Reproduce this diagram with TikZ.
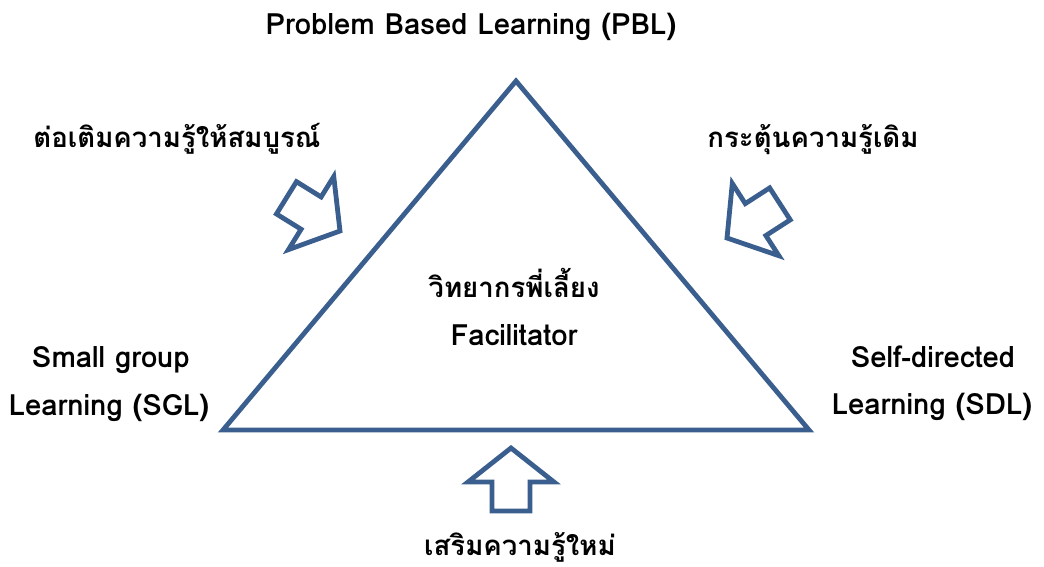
\documentclass[tikz,border=0pt]{standalone}
\usepackage{fontspec}
\setmainfont{Loma}[Script=Thai]
\definecolor{edgeblue}{HTML}{3A5F8F}
\tikzset{
  lbl/.style={anchor=base, inner sep=0pt, font=\bfseries\fontsize{29.3}{34}\selectfont},
  thlbl/.style={anchor=base, inner sep=0pt, font=\bfseries\fontsize{27.6}{32}\selectfont},
  tri/.style={draw=edgeblue, line width=4.8pt, line join=miter},
  blockarrow/.style={draw=edgeblue, line width=4.8pt, fill=white, line join=miter},
}
\begin{document}
\begin{tikzpicture}[x=1pt,y=-1pt]
\useasboundingbox (0,0) rectangle (1044,567);
% triangle
\coordinate (apex) at (516,81);
\coordinate (bl) at (223,430);
\coordinate (br) at (809,430);
\draw[tri] (apex) -- (bl) -- (br) -- cycle;
% block arrows (tip at local origin, pointing along +x)
\foreach \nm/\tx/\ty/\ang in {arrL/340/231/-31.8, arrR/727/238/-147.2, arrB/511/448/90}{
  \draw[blockarrow, shift={(\tx,\ty)}, rotate=\ang]
    (0,0) -- (-34,43) -- (-34,19) -- (-63,19) -- (-63,-19) -- (-34,-19) -- (-34,-43) -- cycle;
}
% labels
\node[lbl] (pbl) at (471,35) {Problem Based Learning (PBL)};
\node[thlbl] (add) at (177,147) {ต่อเติมความรู้ให้สมบูรณ์};
\node[thlbl] (stim) at (813,147) {กระตุ้นความรู้เดิม};
\node[thlbl] (fth) at (514,297) {วิทยากรพี่เลี้ยง};
\node[lbl] (fen) at (514,345) {Facilitator};
\node[lbl] (sgl1) at (111,367) {Small group};
\node[lbl] (sgl2) at (109,415) {Learning (SGL)};
\node[lbl] (sdl1) at (933,367) {Self-directed};
\node[lbl] (sdl2) at (932,414) {Learning (SDL)};
\node[thlbl] (new) at (520,555) {เสริมความรู้ใหม่};
\end{tikzpicture}
\end{document}
